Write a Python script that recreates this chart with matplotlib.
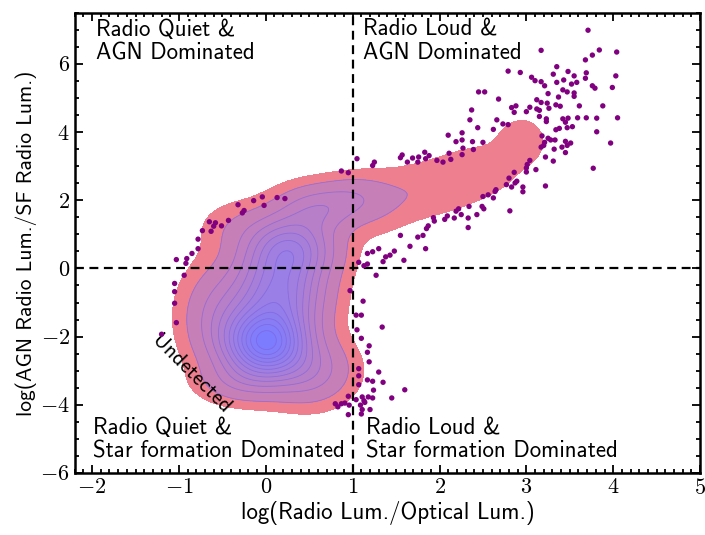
import numpy as np
import matplotlib
matplotlib.use("Agg")
import matplotlib.pyplot as plt
from matplotlib.colors import LinearSegmentedColormap
from matplotlib.ticker import MultipleLocator, FuncFormatter

plt.rcParams["mathtext.fontset"] = "cm"
plt.rcParams["font.family"] = ["cmss10", "DejaVu Sans"]
plt.rcParams["axes.unicode_minus"] = False

# outlier sources (outside the density contours)
pts_x = [
    3.17, 3.84, 4.04, 3.76, 3.68, 3.35, 2.79, 2.93, 3.48, 3.31, 3.69, 4.03, 3.55, 3.06, 3.10,
    3.68, 3.43, 3.17, 3.35, 3.58, 3.52, 3.21, 3.76, 3.79, 3.99, 2.52, 3.42, 3.47, 3.25, 3.55,
    3.55, 3.37, 2.68, 3.12, 3.17, 3.24, 3.34, 3.39, 3.61, 3.88, 2.88, 2.83, 3.04, 3.12, 3.26,
    2.86, 3.00, 3.15, 3.15, 2.66, 3.23, 3.42, 3.48, 3.59, 3.69, 3.81, 4.05, 3.23, 3.45, 2.73,
    2.79, 3.38, 3.47, 3.34, 3.53, 3.71,
    2.62, 2.50, 3.81, 3.18, 3.25, 3.28, 3.33, 3.21, 3.45, 3.51, 3.97, 3.47, 3.41, 3.17, 3.20,
    3.32, 3.45, 3.22, 3.04, 3.31, 3.01, 3.00, 3.11, 3.77, 3.00, 2.86, 2.80, 2.89, 2.87, 2.77,
    2.83, 2.96, 3.22, 2.96, 2.65, 2.64, 2.56, 2.50, 2.62, 2.49, 2.51, 2.81,
    2.45, 2.37, 2.35, 2.44, 2.10, 2.26,
    2.19, 2.26, 2.38, 2.27, 2.39, 2.11, 2.26, 1.57, 1.55, 1.83, 1.88, 1.76, 1.69, 1.84, 1.75,
    1.63, 1.97, 2.04, 2.13, 1.05, 1.25, 1.23, 0.87, 0.95,
    2.34, 2.22, 2.19, 2.25, 2.43, 2.17, 2.33, 2.09, 2.06, 1.93, 1.94, 1.87, 1.85, 2.33, 1.55,
    1.81, 1.75, 1.66, 1.84, 1.30, 1.23, 1.17, 1.48, 1.43, 1.38, 1.59, 1.35, 1.07,
    1.13, 1.17, 1.27, 0.97, 1.12, 1.04, 1.10, 1.34, 1.05, 1.10, 1.19, 1.17, 1.19, 1.07, 1.30,
    1.07, 1.17, 1.23, 1.35, 1.07, 1.24, 1.60, 0.95, 1.11, 1.18, 1.23, 1.45, 1.04, 1.13, 1.14,
    0.80, 0.87, 0.91, 0.83, 1.09, 0.96, 1.20, 1.11, 0.95, 1.10,
    -0.04, -0.14, -0.02, -0.32, -0.25, -0.27, -0.43, -0.65, -0.58, -0.60, -0.51, -0.73, -0.63,
    -0.78, -0.78, -0.85, -0.91, -0.92, -1.03, -0.94, -1.05, -1.05, -1.05, -1.03, -1.20, 0.13, 0.22,
]
pts_y = [
    6.40, 6.41, 6.35, 6.26, 6.12, 5.92, 5.79, 5.75, 5.78, 5.70, 5.74, 5.65, 5.65, 5.61, 5.51,
    5.58, 5.53, 5.48, 5.46, 5.46, 5.41, 5.36, 5.36, 5.29, 5.31, 5.18, 5.24, 5.18, 5.13, 5.15,
    5.05, 5.03, 4.97, 4.95, 4.87, 4.85, 4.80, 4.76, 4.77, 4.77, 4.77, 4.72, 4.73, 4.68, 4.70,
    4.58, 4.60, 4.64, 4.46, 4.36, 4.39, 4.39, 4.41, 4.42, 4.42, 4.41, 4.42, 4.31, 4.29, 4.24,
    4.22, 4.11, 4.13, 4.07, 4.16, 6.99,
    4.08, 3.70, 4.01, 3.89, 3.82, 3.77, 3.77, 3.70, 3.73, 3.68, 3.68, 3.61, 3.56, 3.56, 3.61,
    3.50, 3.40, 3.27, 3.17, 3.15, 3.05, 2.95, 2.90, 2.94, 2.83, 2.82, 2.65, 2.56, 2.51, 2.46,
    2.39, 2.39, 2.42, 2.25, 2.31, 2.26, 2.16, 2.11, 2.07, 1.82, 1.75, 1.69,
    5.18, 4.65, 4.36, 4.13, 3.91, 3.98,
    3.72, 3.77, 3.72, 3.53, 3.49, 3.38, 3.34, 3.33, 3.25, 3.41, 3.31, 3.27, 3.24, 3.22, 3.12,
    3.12, 3.17, 3.12, 3.20, 3.22, 3.12, 3.02, 2.86, 2.81,
    1.82, 1.75, 1.68, 1.58, 1.58, 1.48, 1.48, 1.54, 1.44, 1.49, 1.39, 1.25, 1.17, 1.20, 0.97,
    0.97, 0.92, 0.65, 0.58, 0.58, 0.49, 0.44, 0.51, 0.39, 0.34, 0.24, 0.20, 0.18,
    0.08, 0.13, -0.20, -0.65, -0.96, -1.37, -1.37, -1.72, -1.80, -2.05, -2.27, -2.46, -2.74, -2.94, -3.04,
    -3.15, -3.27, -3.31, -3.34, -3.41, -3.57, -3.56, -3.75, -3.77, -3.77, -3.80, -3.80, -3.85, -3.88, -3.93,
    -3.97, -3.97, -3.95, -4.06, -4.01, -4.01, -4.14, -4.14, -4.29, -4.27,
    2.10, 1.99, 1.85, 1.87, 1.70, 1.63, 1.41, 1.37, 1.34, 1.24, 1.25, 1.11, 1.09,
    0.86, 0.58, 0.44, 0.29, 0.15, 0.26, -0.20, -0.44, -0.68, -1.02, -1.59, -1.93, 2.08, 2.05,
]

# density components: centre, width, weight
kde_cx = [0.00, 0.15, 0.28, 0.60, 1.00, -0.50, 0.50, -0.30, 1.25, 1.60, 2.05, 2.50, 2.95, -0.30]
kde_cy = [-2.20, -0.70, 0.60, 1.75, 2.10, -1.40, -3.00, -3.30, 1.85, 2.15, 2.45, 2.90, 3.75, 1.20]
kde_sx = [0.30, 0.32, 0.32, 0.30, 0.25, 0.28, 0.30, 0.30, 0.25, 0.30, 0.30, 0.30, 0.20, 0.30]
kde_sy = [0.65, 0.80, 0.60, 0.45, 0.40, 0.90, 0.60, 0.40, 0.60, 0.55, 0.55, 0.55, 0.50, 0.50]
kde_w = [1.00, 0.55, 0.45, 0.20, 0.09, 0.18, 0.20, 0.10, 0.04, 0.04, 0.04, 0.04, 0.045, 0.05]

outer_level = 0.02
inner_levels = [0.06, 0.14, 0.22, 0.30, 0.38, 0.46, 0.54, 0.62, 0.70, 0.78, 0.86, 0.94]

xg = np.linspace(-2.2, 5, 500)
yg = np.linspace(-6, 7.5, 500)
X, Y = np.meshgrid(xg, yg)
Z = np.zeros_like(X)
for cx, cy, sx, sy, w in zip(kde_cx, kde_cy, kde_sx, kde_sy, kde_w):
    Z += w * np.exp(-0.5 * (((X - cx) / sx) ** 2 + ((Y - cy) / sy) ** 2))
Z /= Z.max()

fig = plt.figure(figsize=(7.05, 5.35), dpi=100)
ax = fig.add_axes([0.106, 0.116, 0.887, 0.860])

ax.contourf(X, Y, Z, levels=[outer_level, 10], colors=["#EE7F8E"], zorder=1)
cmap = LinearSegmentedColormap.from_list("pb", ["#C77FB8", "#9C7FE4", "#7C7CFF"])
lv = inner_levels + [10]
ax.contourf(X, Y, Z, levels=lv, colors=[cmap(i / (len(lv) - 2)) for i in range(len(lv) - 1)], zorder=2)
ax.contour(X, Y, Z, levels=inner_levels, colors="#7F5FD8", linewidths=0.6, alpha=0.6, zorder=3)

ax.axvline(1, color="k", lw=1.6, ls=(0, (4, 2.5)), zorder=4)
ax.axhline(0, color="k", lw=1.6, ls=(0, (4, 2.5)), zorder=4)

ax.scatter(pts_x, pts_y, s=15, color="#800080", edgecolors="none", zorder=5)

fs = 16.5
ax.text(-1.96, 7.32, "Radio Quiet &\nAGN Dominated", fontsize=fs, ha="left", va="top", linespacing=1.1)
ax.text(1.12, 7.32, "Radio Loud &\nAGN Dominated", fontsize=fs, ha="left", va="top", linespacing=1.1)
ax.text(-1.99, -5.7, "Radio Quiet &\nStar formation Dominated", fontsize=fs, ha="left", va="bottom",
        linespacing=1.1)
ax.text(1.15, -5.7, "Radio Loud &\nStar formation Dominated", fontsize=fs, ha="left", va="bottom",
        linespacing=1.1)
ax.text(-0.86, -3.1, "Undetected", fontsize=15.5, rotation=-45, ha="center", va="center")

ax.set_xlim(-2.2, 5)
ax.set_ylim(-6, 7.5)
ax.xaxis.set_major_locator(MultipleLocator(1))
ax.xaxis.set_minor_locator(MultipleLocator(0.1))
ax.yaxis.set_major_locator(MultipleLocator(2))
ax.yaxis.set_minor_locator(MultipleLocator(0.5))
fmt = FuncFormatter(lambda v, p: f"${v:g}$")
ax.xaxis.set_major_formatter(fmt)
ax.yaxis.set_major_formatter(fmt)
ax.tick_params(which="both", direction="in", top=True, right=True, width=1.3, labelsize=16)
ax.tick_params(which="major", length=6)
ax.tick_params(which="minor", length=3)
for s in ax.spines.values():
    s.set_linewidth(1.8)

ax.set_xlabel("log(Radio Lum./Optical Lum.)", fontsize=16.5, labelpad=2)
ax.set_ylabel("log(AGN Radio Lum./SF Radio Lum.)", fontsize=15.5, labelpad=2)

fig.savefig("out.png", dpi=100)
